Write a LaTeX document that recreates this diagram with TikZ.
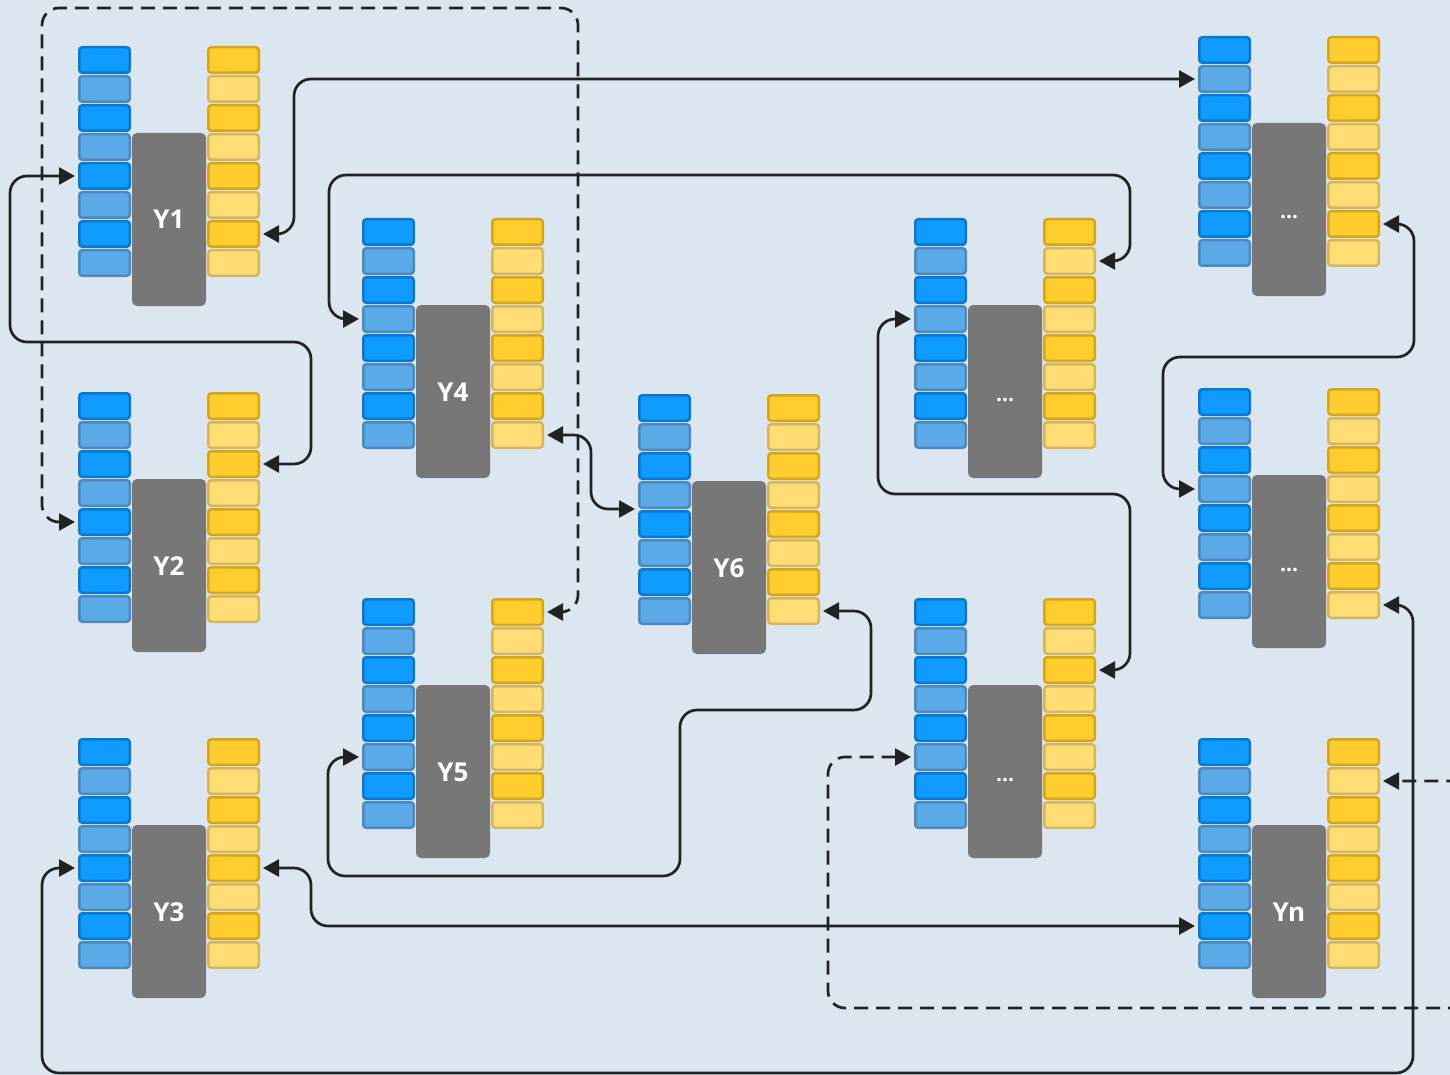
\documentclass[tikz,border=0pt]{standalone}
\usepackage{fontspec}
\setsansfont{Open Sans}
\usetikzlibrary{arrows.meta}
\definecolor{bg}{HTML}{DCE6F0}
\definecolor{coreg}{HTML}{777777}
\definecolor{bdf}{HTML}{0F9BFF}
\definecolor{bdd}{HTML}{0A78CC}
\definecolor{blf}{HTML}{5AAAE8}
\definecolor{bld}{HTML}{4A8AC0}
\definecolor{ydf}{HTML}{FFCE2E}
\definecolor{ydd}{HTML}{D4A620}
\definecolor{ylf}{HTML}{FFDD74}
\definecolor{yld}{HTML}{D4B75C}
\definecolor{ink}{HTML}{222222}
\tikzset{
  cell/.style={rectangle, rounded corners=3pt, minimum width=50.5pt, minimum height=25.5pt, inner sep=0pt, line width=2.5pt},
  bd/.style={cell, fill=bdf, draw=bdd},
  bl/.style={cell, fill=blf, draw=bld},
  yd/.style={cell, fill=ydf, draw=ydd},
  yl/.style={cell, fill=ylf, draw=yld},
  core/.style={rectangle, rounded corners=5pt, fill=coreg, minimum width=74pt, minimum height=173pt, inner sep=0pt, text=white, text height=19pt, text depth=0pt, font=\sffamily\bfseries\fontsize{26}{26}\selectfont},
  conn/.style={line width=2.7pt, draw=ink, rounded corners=17pt, {Triangle[length=16pt,width=17pt]}-{Triangle[length=16pt,width=17pt]}},
  dconn/.style={conn, dash pattern=on 14pt off 8pt}
}
\newcommand\blk[4]{%
  \node[core] (#1) at (#2+91, #3+173.5) {#4};
  \foreach \i/\s in {0/d,1/l,2/d,3/l,4/d,5/l,6/d,7/l} {
    \node[b\s] (#1b\i) at (#2+26.5, #3+29*\i+14) {};
    \node[y\s] (#1y\i) at (#2+155.5, #3+29*\i+14) {};
  }
}
\newcommand\mydots{{\fontsize{21}{21}\selectfont ...}}
\begin{document}
\begin{tikzpicture}[x=1pt,y=-1pt]
\useasboundingbox (0,0) rectangle (1450,1075);
\fill[bg] (0,0) rectangle (1450,1075);
\blk{Y1}{78}{46}{Y1}
\blk{Y2}{78}{392}{Y2}
\blk{Y3}{78}{738}{Y3}
\blk{Y4}{362}{218}{Y4}
\blk{Y5}{362}{598}{Y5}
\blk{Y6}{638}{394}{Y6}
\blk{M1}{914}{218}{\mydots}
\blk{M2}{914}{598}{\mydots}
\blk{R1}{1198}{36}{\mydots}
\blk{R2}{1198}{388}{\mydots}
\blk{Yn}{1198}{738}{Yn}
% connectors
\draw[conn] ([xshift=3pt]Y1y6.east) -- ++(31,0) |- ([xshift=-3pt]R1b1.west);
\draw[conn] ([xshift=-3pt]Y1b4.west) -| (10,342) -| ([xshift=51pt]Y2y2.east) -- ([xshift=3pt]Y2y2.east);
\draw[dconn] ([xshift=-3pt]Y2b4.west) -- ++(-33,0) |- (578,8) |- ([xshift=3pt]Y5y0.east);
\draw[conn] ([xshift=-3pt]Y4b3.west) -- ++(-30,0) |- (1130,175) |- ([xshift=3pt]M1y1.east);
\draw[conn] ([xshift=3pt]Y4y7.east) -- ++(44,0) |- ([xshift=-3pt]Y6b3.south west);
\draw[conn] ([xshift=3pt]Y6y7.east) -- ++(48,0) |- (680,710) |- (328,876) |- ([xshift=-3pt]Y5b5.west);
\draw[conn] ([xshift=3pt]Y3y4.east) -- ++(48,0) |- ([xshift=-3pt]Ynb6.west);
\draw[conn] ([xshift=-3pt]Y3b4.west) -- ++(-33,0) |- (1413,1073) |- ([xshift=3pt]R2y7.east);
\draw[conn] ([xshift=-3pt]M1b3.west) -- ++(-33,0) |- (1130,494) |- ([xshift=3pt]M2y2.east);
\draw[conn] ([xshift=3pt]R1y6.east) -- ++(31,0) |- (1163,357) |- ([xshift=-3pt]R2b3.west);
\begin{scope}
\clip (0,0) rectangle (1450,1075);
\draw[dconn] ([xshift=-3pt]M2b5.west) -- ++(-83,0) |- (1480,1008) |- ([xshift=3pt]Yny1.east);
\end{scope}
\end{tikzpicture}
\end{document}
